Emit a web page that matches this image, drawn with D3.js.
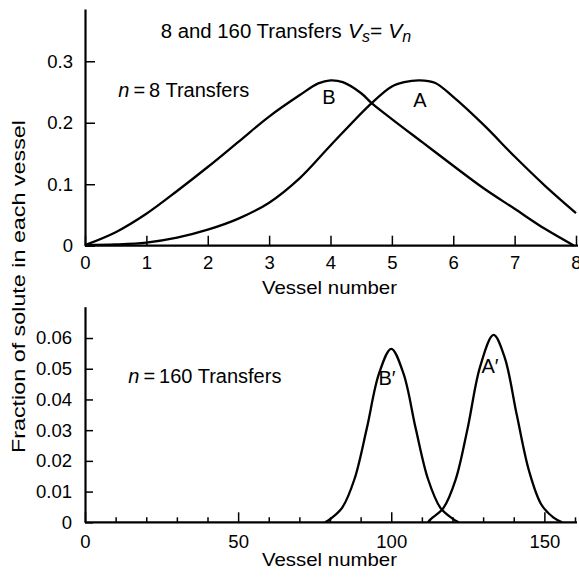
<!DOCTYPE html>
<html>
<head>
<meta charset="utf-8">
<script src="https://cdn.jsdelivr.net/npm/d3@7"></script>
<style>
  body { margin: 0; background: #fff; }
  svg { font-family: "Liberation Sans", Arial, Helvetica, sans-serif; }
  .axis path, .axis line { stroke: #000; }
  .axis text { font-size: 18.5px; fill: #000; }
</style>
</head>
<body>
<div id="chart"></div>
<script>
// ---- data ----
// n = 8 transfers
var vesselA8 = [0, 0.5, 1, 1.5, 2, 2.5, 3, 3.5, 4, 4.67, 5, 5.2, 5.45, 5.7, 6, 6.5, 7, 7.5, 8];
var fracA8   = [0.001, 0.002, 0.005, 0.013, 0.026, 0.044, 0.07, 0.11, 0.163, 0.232, 0.259, 0.266, 0.269, 0.265, 0.242, 0.196, 0.145, 0.097, 0.053];
var vesselB8 = [0, 0.5, 1, 1.5, 2, 2.5, 3, 3.5, 3.8, 4, 4.2, 4.5, 4.67, 5, 5.5, 6, 6.5, 7, 7.5, 7.97];
var fracB8   = [0.001, 0.022, 0.052, 0.089, 0.128, 0.169, 0.21, 0.245, 0.264, 0.269, 0.266, 0.248, 0.232, 0.206, 0.168, 0.13, 0.093, 0.06, 0.027, 0.0];

// n = 160 transfers
var vesselB160 = [78.4, 80, 84, 88, 92, 96, 100, 104, 108, 112, 116, 120, 122];
var fracB160   = [0, 0.001, 0.0048, 0.0141, 0.0305, 0.0484, 0.0565, 0.0484, 0.0305, 0.0141, 0.0048, 0.0012, 0];
var vesselA160 = [112, 113, 117, 121, 125, 129, 133.4, 137, 141, 145, 149, 153, 155.8];
var fracA160   = [0, 0.0011, 0.0046, 0.0138, 0.0309, 0.0506, 0.061, 0.0538, 0.0349, 0.0167, 0.0058, 0.0015, 0];

var xTicksTop = [0, 1, 2, 3, 4, 5, 6, 7, 8];
var yTicksTop = [0, 0.1, 0.2, 0.3];
var xTicksBot = [0, 10, 20, 30, 40, 50, 60, 70, 80, 90, 100, 110, 120, 130, 140, 150, 160];
var xLabelsBot = [0, 50, 100, 150];
var yTicksBot = [0, 0.01, 0.02, 0.03, 0.04, 0.05, 0.06];

var width = 579, height = 577;

var svg = d3.select("#chart")
    .append("svg")
    .attr("width", width)
    .attr("height", height);

function fmt(d) { return d === 0 ? "0" : String(d); }

function zip(xs, ys) { return xs.map(function (x, i) { return [x, ys[i]]; }); }

// ---------- top panel ----------
var xTop = d3.scaleLinear().domain([0, 8]).range([85, 576]);
var yTop = d3.scaleLinear().domain([0, 0.385]).range([245.7, 9]);

var gxTop = svg.append("g")
    .attr("class", "axis")
    .attr("transform", "translate(0," + yTop(0) + ")")
    .call(d3.axisBottom(xTop).tickValues(xTicksTop).tickSizeInner(-10).tickSizeOuter(0)
          .tickPadding(10).tickFormat(fmt));
gxTop.select(".domain").attr("stroke-width", 2.2).attr("d", "M85,0H578");
gxTop.selectAll(".tick line").attr("stroke-width", 1.5);

var gyTop = svg.append("g")
    .attr("class", "axis")
    .attr("transform", "translate(" + xTop(0) + ",0)")
    .call(d3.axisLeft(yTop).tickValues(yTicksTop).tickSizeInner(-10).tickSizeOuter(0)
          .tickPadding(12).tickFormat(fmt));
gyTop.select(".domain").attr("stroke-width", 2.2);
gyTop.selectAll(".tick line").attr("stroke-width", 1.5);

var lineTop = d3.line()
    .x(function (d) { return xTop(d[0]); })
    .y(function (d) { return yTop(d[1]); })
    .curve(d3.curveCatmullRom.alpha(0.5));

svg.append("path").datum(zip(vesselA8, fracA8))
    .attr("d", lineTop).attr("fill", "none").attr("stroke", "#000").attr("stroke-width", 2.3);
svg.append("path").datum(zip(vesselB8, fracB8))
    .attr("d", lineTop).attr("fill", "none").attr("stroke", "#000").attr("stroke-width", 2.3);

// ---------- bottom panel ----------
var xBot = d3.scaleLinear().domain([0, 160]).range([85, 575]);
var yBot = d3.scaleLinear().domain([0, 0.0702]).range([522.3, 306.7]);

var gxBot = svg.append("g")
    .attr("class", "axis")
    .attr("transform", "translate(0," + yBot(0) + ")")
    .call(d3.axisBottom(xBot).tickValues(xTicksBot).tickSizeInner(-5).tickSizeOuter(0)
          .tickPadding(13)
          .tickFormat(function (d) { return xLabelsBot.indexOf(d) >= 0 ? fmt(d) : ""; }));
gxBot.select(".domain").attr("stroke-width", 2.2).attr("d", "M85,0H577");
gxBot.selectAll(".tick line").attr("stroke-width", 1.5)
    .attr("y2", function (d) { return xLabelsBot.indexOf(d) >= 0 ? -10 : -5; });

var gyBot = svg.append("g")
    .attr("class", "axis")
    .attr("transform", "translate(" + xBot(0) + ",0)")
    .call(d3.axisLeft(yBot).tickValues(yTicksBot).tickSizeInner(-8).tickSizeOuter(0)
          .tickPadding(13).tickFormat(fmt));
gyBot.select(".domain").attr("stroke-width", 2.2);
gyBot.selectAll(".tick line").attr("stroke-width", 1.5);

var lineBot = d3.line()
    .x(function (d) { return xBot(d[0]); })
    .y(function (d) { return yBot(d[1]); })
    .curve(d3.curveCatmullRom.alpha(0.5));

svg.append("path").datum(zip(vesselB160, fracB160))
    .attr("d", lineBot).attr("fill", "none").attr("stroke", "#000").attr("stroke-width", 2.3);
svg.append("path").datum(zip(vesselA160, fracA160))
    .attr("d", lineBot).attr("fill", "none").attr("stroke", "#000").attr("stroke-width", 2.3);

// ---------- texts ----------
function label(x, y, size, anchor) {
    return svg.append("text")
        .attr("x", x).attr("y", y)
        .attr("font-size", size)
        .attr("text-anchor", anchor || "start")
        .attr("fill", "#000");
}

label(160.7, 38.3, 20).attr("textLength", 181).attr("lengthAdjust", "spacingAndGlyphs")
    .text("8 and 160 Transfers");
var vv = label(348, 38.3, 21);
vv.append("tspan").attr("font-style", "italic").text("V");
vv.append("tspan").attr("font-style", "italic").attr("font-size", 16).attr("dy", 4).text("s");
vv.append("tspan").attr("dy", -4).text("= ");
vv.append("tspan").attr("font-style", "italic").text("V");
vv.append("tspan").attr("font-style", "italic").attr("font-size", 16).attr("dy", 4).text("n");

var n8 = label(118.3, 96.7, 20);
n8.append("tspan").attr("font-style", "italic").text("n");
n8.append("tspan").text("\u2009=\u20098 Transfers");

var n160 = label(128.3, 383.3, 20);
n160.append("tspan").attr("font-style", "italic").text("n");
n160.append("tspan").text("\u2009=\u2009160 Transfers");

label(329, 104, 20, "middle").text("B");
label(420, 106.7, 20, "middle").text("A");
label(387, 385, 20, "middle").text("B\u2032");
label(490, 373.3, 20, "middle").text("A\u2032");

label(262, 293.5, 19).attr("textLength", 135).attr("lengthAdjust", "spacingAndGlyphs")
    .text("Vessel number");
label(262, 566, 19).attr("textLength", 135).attr("lengthAdjust", "spacingAndGlyphs")
    .text("Vessel number");

svg.append("text")
    .attr("transform", "translate(25,453) rotate(-90)")
    .attr("font-size", 19)
    .attr("fill", "#000")
    .attr("textLength", 333)
    .attr("lengthAdjust", "spacingAndGlyphs")
    .text("Fraction of solute in each vessel");
</script>
</body>
</html>
